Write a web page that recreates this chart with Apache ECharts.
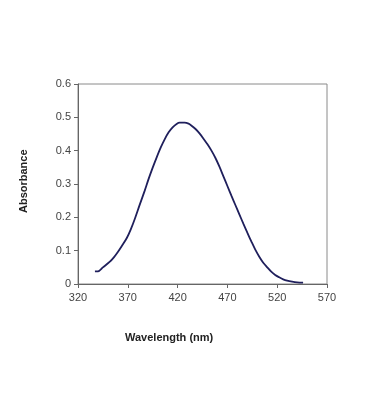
<!DOCTYPE html>
<html>
<head>
<meta charset="utf-8">
<script src="https://cdn.jsdelivr.net/npm/echarts@6/dist/echarts.min.js"></script>
<style>
html,body{margin:0;padding:0;background:#fff;}
#c{width:369px;height:419px;}
</style>
</head>
<body>
<div id="c"></div>
<script>
var wavelength = [337, 340, 345, 352, 356, 360, 364, 369, 373, 377, 382, 387, 391, 395, 399, 403, 407, 411, 415, 419, 422, 427, 431, 434, 438, 442, 446, 450, 454, 458, 462, 466, 470, 474, 478, 482, 486, 490, 494, 498, 502, 506, 510, 514, 518, 522, 526, 530, 535, 540, 546];
var absorbance = [0.038, 0.038, 0.050, 0.067, 0.080, 0.096, 0.114, 0.138, 0.164, 0.195, 0.238, 0.280, 0.316, 0.349, 0.380, 0.409, 0.434, 0.455, 0.470, 0.480, 0.484, 0.484, 0.481, 0.475, 0.465, 0.452, 0.436, 0.419, 0.400, 0.378, 0.352, 0.323, 0.294, 0.265, 0.237, 0.209, 0.181, 0.154, 0.128, 0.103, 0.082, 0.064, 0.050, 0.037, 0.027, 0.020, 0.014, 0.010, 0.007, 0.005, 0.004];
var xTicks = [320, 370, 420, 470, 520, 570];
var yTicks = [0, 0.1, 0.2, 0.3, 0.4, 0.5, 0.6];
var xTitle = 'Wavelength (nm)';
var yTitle = 'Absorbance';

var chart = echarts.init(document.getElementById('c'));
var pts = wavelength.map(function (w, i) { return [w, absorbance[i]]; });
chart.setOption({
  animation: false,
  backgroundColor: '#fff',
  grid: { left: 78, top: 84, width: 249, height: 200, show: true, borderColor: '#8a8a8a', borderWidth: 1, backgroundColor: 'transparent' },
  xAxis: {
    type: 'value', min: xTicks[0], max: xTicks[xTicks.length - 1], interval: 50,
    axisLine: { lineStyle: { color: '#666', width: 1 } },
    axisTick: { show: true, length: 4, lineStyle: { color: '#666' } },
    axisLabel: { color: '#444', fontFamily: 'Liberation Sans, Arial', fontSize: 11, margin: 8 },
    splitLine: { show: false }
  },
  yAxis: {
    type: 'value', min: yTicks[0], max: yTicks[yTicks.length - 1], interval: 0.1,
    axisLine: { show: true, lineStyle: { color: '#666', width: 1 } },
    axisTick: { show: true, length: 4, lineStyle: { color: '#666' } },
    axisLabel: { color: '#444', fontFamily: 'Liberation Sans, Arial', fontSize: 11, margin: 7,
      formatter: function (v) { return v === 0 ? '0' : v.toFixed(1); } },
    splitLine: { show: false }
  },
  series: [{
    type: 'line', data: pts, showSymbol: false, smooth: 0.3,
    lineStyle: { color: '#1f1f5c', width: 1.8 }
  }],
  graphic: [
    { type: 'text', left: 125, top: 332, style: { text: xTitle, font: 'bold 11px "Liberation Sans", Arial', fill: '#222', letterSpacing: 0.3 } },
    { type: 'text', rotation: Math.PI / 2, x: 18, y: 213, style: { text: yTitle, font: 'bold 11px "Liberation Sans", Arial', fill: '#222' } }
  ]
});
</script>
</body>
</html>
